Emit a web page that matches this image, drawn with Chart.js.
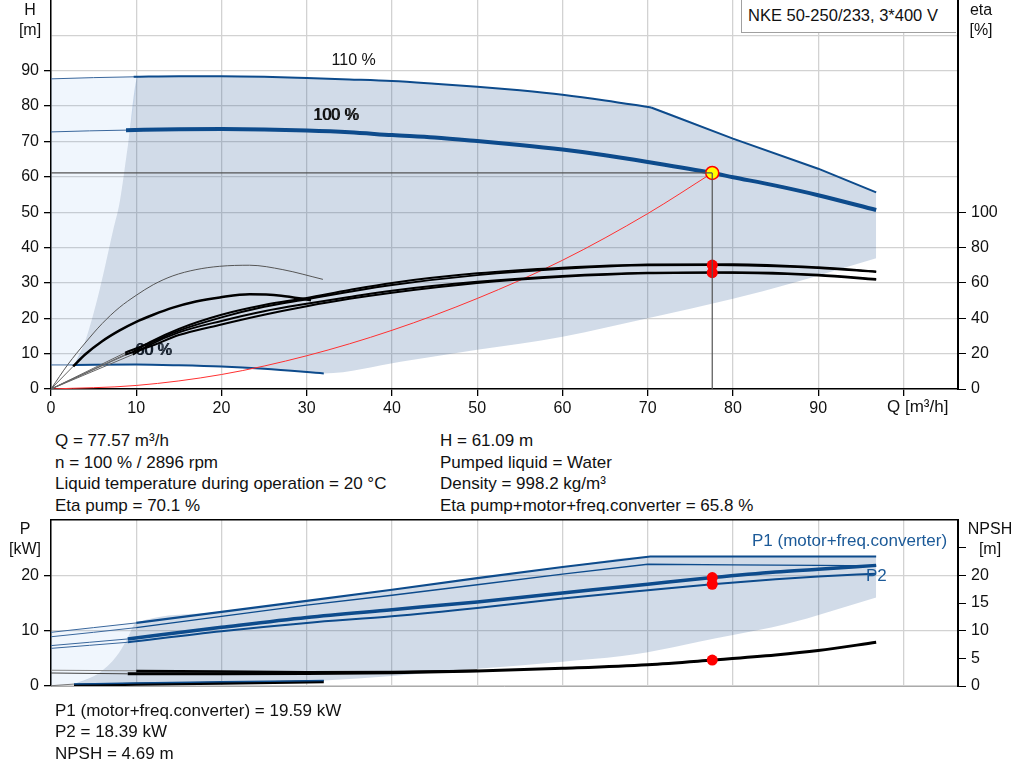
<!DOCTYPE html>
<html>
<head>
<meta charset="utf-8">
<script src="https://cdn.jsdelivr.net/npm/chart.js@4.4.1/dist/chart.umd.min.js"></script>
<style>
  html, body { margin: 0; padding: 0; background: #fff; }
  body { width: 1024px; height: 781px; position: relative; overflow: hidden;
         font-family: 'Liberation Sans', Arial, sans-serif; color: #111; }
  canvas { position: absolute; left: 0; }
  .t { position: absolute; font-size: 17px; line-height: 21.5px; white-space: nowrap; }
  .ax { position: absolute; font-size: 16px; line-height: 20px; text-align: center; width: 60px; }
  #typeBox { position: absolute; left: 741px; top: -1px; width: 215px; height: 34px; box-sizing: border-box;
             border: 1.5px solid #a0a0a0; border-right: none; background: #fff;
             font-size: 16.5px; line-height: 30px; padding-left: 6px; white-space: nowrap; }
  .blue { color: #1c5a98; }
</style>
</head>
<body>
<canvas id="headChart" width="1024" height="420" style="top:0"></canvas>
<canvas id="powerChart" width="1024" height="192" style="top:518px"></canvas>

<div class="ax" style="left:0; top:0">H<br>[m]</div>
<div class="ax" style="left:951px; top:0">eta<br>[%]</div>
<div class="ax" style="left:-5px; top:519px">P<br>[kW]</div>
<div class="ax" style="left:960px; top:519px">NPSH<br>[m]</div>
<div class="t" style="left:887px; top:396px">Q [m³/h]</div>
<div id="typeBox">NKE 50-250/233, 3*400 V</div>
<div class="t blue" style="left:752px; top:530px">P1 (motor+freq.converter)</div>
<div class="t blue" style="left:866px; top:565px">P2</div>
<div class="t" id="infoLeft" style="left:55px; top:430px"></div>
<div class="t" id="infoRight" style="left:440px; top:430px"></div>
<div class="t" id="infoPower" style="left:55px; top:700px; line-height:21.3px"></div>

<script>
// duty point
const dutyQ = 77.57, dutyH = 61.09
const etaPump = 70.1, etaTotal = 65.8
const p1Duty = 19.59, p2Duty = 18.39, npshDuty = 4.69
const speedPct = 100, rpm = 2896, liquidTemp = 20, density = 998.2

// axes
const Q_MAX = 106.4, H_MAX = 110, ETA_MAX = 220, P_MAX = 30
const qMarks = [0, 10, 20, 30, 40, 50, 60, 70, 80, 90, 100]
const qTicks = [0, 10, 20, 30, 40, 50, 60, 70, 80, 90]
const hGrid = [0, 10, 20, 30, 40, 50, 60, 70, 80, 90, 100]
const hTicks = [0, 10, 20, 30, 40, 50, 60, 70, 80, 90]
const etaTicks = [0, 20, 40, 60, 80, 100]
const pTicks = [0, 10, 20]
const npshMarks = [0, 5, 10, 15, 20, 25]
const npshTicks = [0, 5, 10, 15, 20]

// head curves [m]
const h110ThinQ = [0, 5, 10.2], h110ThinH = [87.7, 88.05, 88.3]
const h110Q = [9.7, 15, 20, 25, 30, 35, 40, 45, 50, 55, 60, 65, 70.4]
const h110H = [88.3, 88.45, 88.45, 88.3, 87.95, 87.55, 87.1, 86.35, 85.5, 84.45, 83.2, 81.6, 79.6]
const h110LimQ = [70.4, 80, 90, 96.8], h110LimH = [79.6, 70.8, 62.3, 55.6]
const h100ThinQ = [0, 4.5, 8.8], h100ThinH = [72.7, 73.0, 73.2]
const h100Q = [8.8, 15, 20, 25, 30, 35, 40, 45, 50, 55, 60, 65, 70, 77.57, 80, 85, 90, 96.8]
const h100H = [73.2, 73.45, 73.5, 73.4, 73.1, 72.6, 71.8, 71.1, 70.1, 69.0, 67.7, 66.1, 64.2, 61.09, 59.9, 57.5, 54.8, 50.6]
const h60ThinQ = [0, 2.7], h60ThinH = [6.8, 6.8]
const h60Q = [2.7, 10, 15, 20, 25, 32], h60H = [6.8, 6.9, 6.7, 6.35, 5.7, 4.4]
const minFlowQ = [2.7, 4, 5.7, 7.3, 8.1, 9.0, 10.2], minFlowH = [6.8, 13.5, 28, 45, 53.4, 68.5, 88.3]
const lowQ = [32, 41, 47, 50, 60, 70, 80, 87, 96.8], lowH = [4.4, 7.7, 10, 11.1, 14.8, 20, 25.5, 30, 37]
const sysQ = [0, 10, 20, 30, 40, 50, 60, 70, 77.57], sysH = [0, 1.0, 4.1, 9.4, 16.6, 25.6, 36.4, 49.6, 61.09]

// efficiency curves [%]
const etaAQ = [0, 2, 4, 6, 8, 10, 12, 14.3, 17, 19.8, 23.3, 27.2, 31.9]
const etaA = [0, 14, 26, 37, 46, 53, 59, 64, 67.5, 69.4, 70, 67.5, 62]
const etaBQ = [2.6, 4, 6, 8, 10, 12, 14.3, 17, 19.8, 23.3, 27, 30.5]
const etaB = [12.8, 19.5, 27, 33, 38, 42, 46, 49.5, 51.8, 53.6, 52.8, 50.2]
const etaU1Q = [9.6, 11.6, 15, 20, 25, 30, 35, 40, 50, 60, 70, 80, 90, 96.8]
const etaU1 = [21, 26.5, 34, 42, 47.5, 51.5, 56, 60, 65.4, 68.6, 70.4, 70.6, 68.8, 66.4]
const etaU2Q = [8.7, 11.6, 15, 20, 25, 30, 35, 40, 50, 60, 70, 77.57, 85, 90, 96.8]
const etaU2 = [20.5, 26, 33, 40.5, 46.5, 50.8, 55, 58.8, 64.4, 68, 70, 70.1, 69.4, 68.4, 66.2]
const etaL1Q = [9.6, 11.6, 15, 20, 25, 30, 35, 40, 50, 60, 70, 80, 90, 96.8]
const etaL1 = [19.5, 25, 32, 38.5, 44, 48.2, 52, 55.6, 60.6, 63.9, 65.7, 66, 64.6, 62.2]
const etaL2Q = [8.7, 11.6, 15, 20, 25, 30, 35, 40, 50, 60, 70, 77.57, 85, 90, 96.8]
const etaL2 = [19.5, 24, 30.5, 36.5, 42, 46.8, 51, 54.5, 60, 63.5, 65.5, 65.8, 65.2, 64.2, 61.8]

// power curves [kW]
const p1_110ThinQ = [0, 5, 10], p1_110ThinP = [9.7, 10.55, 11.4]
const p1_110Q = [10, 20, 30, 40, 50, 60, 70.3, 80, 96.8], p1_110P = [11.4, 13.4, 15.4, 17.4, 19.5, 21.5, 23.4, 23.4, 23.4]
const p2_110ThinQ = [0, 5, 10], p2_110ThinP = [8.9, 9.7, 10.55]
const p2_110Q = [10, 20, 30, 40, 50, 60, 70, 80, 90, 96.8], p2_110P = [10.55, 12.6, 14.6, 16.4, 18.3, 20.2, 22.0, 21.9, 21.8, 21.7]
const p1_100ThinQ = [0, 4.5, 9], p1_100ThinP = [7.3, 7.9, 8.5]
const p100Q = [9, 20, 30, 40, 50, 60, 70, 77.57, 85, 90, 96.8]
const p1_100P = [8.5, 10.6, 12.4, 13.8, 15.2, 16.8, 18.4, 19.59, 20.6, 21.1, 21.8]
const p2_100ThinQ = [0, 4.5, 9], p2_100ThinP = [6.8, 7.35, 7.9]
const p2_100P = [7.9, 9.9, 11.4, 12.6, 14.1, 15.8, 17.3, 18.39, 19.3, 19.8, 20.3]
const p60ThinQ = [0, 2.7], p60ThinP = [0.05, 0.35]
const p60Q = [2.7, 10, 20, 32], p60P = [0.35, 0.55, 0.75, 1.0]
const minFlowPQ = [2.7, 5.7, 7.7, 8.9, 9.8, 10], minFlowP = [0.35, 2.4, 5.4, 8.4, 11.2, 11.4]
const lowPQ = [32, 40, 50, 60, 67, 70, 76, 80, 86, 96.8], lowP = [1.0, 1.8, 3.1, 4.4, 5.4, 6.1, 8.0, 9.2, 11.1, 16]

// NPSH curves [m]
const npsh100ThinQ = [0, 9], npsh100Thin = [2.35, 2.2]
const npsh100 = [2.2, 2.2, 2.25, 2.4, 2.7, 3.2, 3.85, 4.69, 5.6, 6.4, 7.9]
const npsh110ThinQ = [0, 10], npsh110Thin = [2.85, 2.75]
const npsh110Q = [10, 20, 30, 40, 50], npsh110 = [2.7, 2.6, 2.5, 2.55, 2.75]
const npsh60Q = [2.7, 10, 20, 32], npsh60 = [0.15, 0.3, 0.5, 0.75]

const BLUE = '#0d4b8c', BLUE_THIN = '#3a679c', GREY_FILL = 'rgba(24,76,140,0.2)', LIGHT_FILL = 'rgba(60,140,230,0.08)'
const GRID = '#d2d2d2'

Chart.defaults.font.family = "'Liberation Sans', Arial, sans-serif"
Chart.defaults.font.size = 16
Chart.defaults.color = '#111'

function pts(qs, vs) { return qs.map((q, i) => ({x: q, y: vs[i]})) }

function curve(data, color, width, extra) {
    return Object.assign({
        data: data, showLine: true, borderColor: color, borderWidth: width,
        pointRadius: 0, pointHoverRadius: 0, fill: false,
        cubicInterpolationMode: 'monotone', order: 10
    }, extra || {})
}

function dot(data, radius, bg, border, extra) {
    return Object.assign({
        data: data, showLine: false, pointRadius: radius, pointHoverRadius: radius,
        backgroundColor: bg, borderColor: border || bg, borderWidth: border ? 1.5 : 0, order: 2
    }, extra || {})
}

// fill between two invisible outlines
function area(list, low, high, color) {
    list.push(curve(low, 'rgba(0,0,0,0)', 1, {order: 20}))
    let idx = list.length - 1
    list.push(curve(high, 'rgba(0,0,0,0)', 1, {order: 20, fill: {target: idx}, backgroundColor: color}))
}

const curveLabels = {
    id: 'curveLabels',
    beforeDatasetsDraw(chart, args, opts) { drawLabels(chart, opts.items.filter(i => i.under)) },
    afterDatasetsDraw(chart, args, opts) { drawLabels(chart, opts.items.filter(i => !i.under)) }
}

function drawLabels(chart, items) {
    let ctx = chart.ctx
    ctx.save()
    ctx.font = "16px 'Liberation Sans', Arial, sans-serif"
    ctx.fillStyle = '#111'
    ctx.textAlign = 'center'
    ctx.textBaseline = 'middle'
    items.forEach(it => {
        let px = chart.scales.x.getPixelForValue(it.q)
        let py = chart.scales.y.getPixelForValue(it.v)
        ctx.fillText(it.text, px, py)
        if (it.twice) ctx.fillText(it.text, px + 1, py)
    })
    ctx.restore()
}

function tickMarks(list) {
    return c => (c.tick && list.includes(c.tick.value)) ? '#000' : 'rgba(0,0,0,0)'
}

// fixed axis sizes, no extra label padding around the plot
function fitY(w) { return s => { s.width = w; s.paddingTop = 0; s.paddingBottom = 0 } }
function fitX(h) { return s => { s.height = h; s.paddingLeft = 0; s.paddingRight = 0 } }

// ---------- head / efficiency chart ----------
let headSets = []
area(headSets, pts(h60ThinQ, h60ThinH).concat(pts(minFlowQ, minFlowH).slice(1)), pts(h110ThinQ, h110ThinH), LIGHT_FILL)
area(headSets,
    pts(h60Q, h60H).concat(pts(lowQ, lowH).slice(1)),
    pts(minFlowQ, minFlowH).concat(pts(h110Q, h110H).filter(p => p.x > 10.2), pts(h110LimQ, h110LimH).slice(1)),
    GREY_FILL)

headSets.push(
    curve(pts(h110ThinQ, h110ThinH), BLUE_THIN, 1, {order: 12}),
    curve(pts(h110Q, h110H), BLUE, 2),
    curve(pts(h110LimQ, h110LimH), BLUE, 2, {cubicInterpolationMode: 'default', tension: 0}),
    curve(pts(h100ThinQ, h100ThinH), BLUE_THIN, 1, {order: 12}),
    curve(pts(h100Q, h100H), BLUE, 4),
    curve(pts(h60ThinQ, h60ThinH), BLUE_THIN, 1, {order: 12}),
    curve(pts(h60Q, h60H), BLUE, 2),
    curve(pts(sysQ, sysH), '#ff3030', 1, {order: 9}),

    curve(pts(etaAQ, etaA), '#555', 1, {yAxisID: 'y2', order: 8}),
    curve(pts([0, etaBQ[0]], [0, etaB[0]]), '#666', 1, {yAxisID: 'y2', order: 8}),
    curve(pts([0, etaU1Q[0]], [0, etaU1[0]]), '#666', 1, {yAxisID: 'y2', order: 8}),
    curve(pts([0, etaU2Q[0]], [0, etaU2[0]]), '#666', 1, {yAxisID: 'y2', order: 8}),
    curve(pts([0, etaL1Q[0]], [0, etaL1[0]]), '#666', 1, {yAxisID: 'y2', order: 8}),
    curve(pts([0, etaL2Q[0]], [0, etaL2[0]]), '#666', 1, {yAxisID: 'y2', order: 8}),
    curve(pts(etaBQ, etaB), '#000', 2.5, {yAxisID: 'y2', order: 7}),
    curve(pts(etaU1Q, etaU1), '#000', 2, {yAxisID: 'y2', order: 7}),
    curve(pts(etaU2Q, etaU2), '#000', 2, {yAxisID: 'y2', order: 7}),
    curve(pts(etaL1Q, etaL1), '#000', 2, {yAxisID: 'y2', order: 7}),
    curve(pts(etaL2Q, etaL2), '#000', 2, {yAxisID: 'y2', order: 7}),

    dot([{x: dutyQ, y: etaPump}, {x: dutyQ, y: etaTotal}], 5.5, '#ff0000', null, {yAxisID: 'y2'}),
    dot([{x: dutyQ, y: dutyH}], 6.5, '#ffff00', '#ff0000'),
    curve([{x: 0, y: dutyH}, {x: dutyQ, y: dutyH}], '#555', 1.2, {order: 1, cubicInterpolationMode: 'default', tension: 0}),
    curve([{x: dutyQ, y: dutyH}, {x: dutyQ, y: 0}], '#555', 1.2, {order: 1, cubicInterpolationMode: 'default', tension: 0})
)

const headChart = new Chart(document.getElementById('headChart'), {
    type: 'scatter',
    data: {datasets: headSets},
    plugins: [curveLabels],
    options: {
        responsive: false, animation: false, events: [],
        layout: {autoPadding: false, padding: 0},
        plugins: {
            legend: {display: false}, tooltip: {enabled: false},
            curveLabels: {items: [
                {text: '110 %', q: 35.5, v: 92.8},
                {text: '100 %', q: 33.4, v: 77.4, twice: true},
                {text: '60 %', q: 12.0, v: 11.0, twice: true, under: true}
            ]}
        },
        scales: {
            x: {
                type: 'linear', min: 0, max: Q_MAX,
                afterBuildTicks: s => { s.ticks = qMarks.map(v => ({value: v})) },
                afterFit: fitX(31),
                ticks: {autoSkip: false, maxRotation: 0, padding: 3, callback: v => qTicks.includes(v) ? String(v) : ''},
                grid: {color: GRID, lineWidth: 1.3, tickLength: 7, tickColor: tickMarks(qMarks)},
                border: {color: '#000', width: 1.5}
            },
            y: {
                type: 'linear', min: 0, max: H_MAX,
                afterBuildTicks: s => { s.ticks = hGrid.map(v => ({value: v})) },
                afterFit: fitY(51),
                ticks: {padding: 5, callback: v => hTicks.includes(v) ? String(v) : ''},
                grid: {color: GRID, lineWidth: 1.3, tickLength: 7, tickColor: tickMarks(hTicks)},
                border: {color: '#000', width: 1.5}
            },
            y2: {
                type: 'linear', position: 'right', min: 0, max: ETA_MAX,
                afterBuildTicks: s => { s.ticks = etaTicks.map(v => ({value: v})) },
                afterFit: fitY(66),
                ticks: {padding: 5},
                grid: {drawOnChartArea: false, tickLength: 8, tickColor: '#000'},
                border: {color: '#000', width: 2}
            }
        }
    }
})

// ---------- power / NPSH chart ----------
let powerSets = []
area(powerSets, pts(p60ThinQ, p60ThinP).concat(pts(minFlowPQ, minFlowP).slice(1)), pts(p1_110ThinQ, p1_110ThinP), LIGHT_FILL)
area(powerSets,
    pts(p60Q, p60P).concat(pts(lowPQ, lowP).slice(1)),
    pts(minFlowPQ, minFlowP).concat(pts(p1_110Q, p1_110P).slice(1)),
    GREY_FILL)

powerSets.push(
    curve(pts(p1_110ThinQ, p1_110ThinP), BLUE_THIN, 1, {order: 12}),
    curve(pts(p1_110Q, p1_110P), BLUE, 2.2, {cubicInterpolationMode: 'default', tension: 0}),
    curve(pts(p2_110ThinQ, p2_110ThinP), BLUE_THIN, 1, {order: 12}),
    curve(pts(p2_110Q, p2_110P), BLUE, 1.3, {cubicInterpolationMode: 'default', tension: 0}),
    curve(pts(p1_100ThinQ, p1_100ThinP), BLUE_THIN, 1, {order: 12}),
    curve(pts(p100Q, p1_100P), BLUE, 3.5),
    curve(pts(p2_100ThinQ, p2_100ThinP), BLUE_THIN, 1, {order: 12}),
    curve(pts(p100Q, p2_100P), BLUE, 2),

    curve(pts(npsh110ThinQ, npsh110Thin), '#888', 1, {yAxisID: 'y2', order: 12}),
    curve(pts(npsh100ThinQ, npsh100Thin), '#444', 1, {yAxisID: 'y2', order: 12}),
    curve(pts(npsh110Q, npsh110), '#000', 2.5, {yAxisID: 'y2', order: 7}),
    curve(pts(p100Q, npsh100), '#000', 3, {yAxisID: 'y2', order: 7}),
    curve(pts(npsh60Q, npsh60), '#000', 3, {yAxisID: 'y2', order: 7}),
    curve(pts(p60ThinQ, p60ThinP), '#777', 1, {order: 12}),
    curve(pts(p60Q, p60P), BLUE, 1.5, {order: 6}),

    dot([{x: dutyQ, y: p1Duty}, {x: dutyQ, y: p2Duty}], 5.5, '#ff0000'),
    dot([{x: dutyQ, y: npshDuty}], 5.5, '#ff0000', null, {yAxisID: 'y2'})
)

const powerChart = new Chart(document.getElementById('powerChart'), {
    type: 'scatter',
    data: {datasets: powerSets},
    options: {
        responsive: false, animation: false, events: [],
        layout: {autoPadding: false, padding: {top: 2, left: 0, right: 0, bottom: 0}},
        plugins: {legend: {display: false}, tooltip: {enabled: false}},
        scales: {
            x: {
                type: 'linear', min: 0, max: Q_MAX,
                afterBuildTicks: s => { s.ticks = qMarks.map(v => ({value: v})) },
                afterFit: fitX(24),
                ticks: {display: false},
                grid: {color: GRID, lineWidth: 1.3, drawTicks: false},
                border: {color: '#aaa', width: 1}
            },
            x2: {
                type: 'linear', position: 'top', min: 0, max: Q_MAX,
                afterFit: fitX(0),
                ticks: {display: false},
                grid: {display: false, drawTicks: false},
                border: {color: '#000', width: 1.5}
            },
            y: {
                type: 'linear', min: 0, max: P_MAX,
                afterBuildTicks: s => { s.ticks = pTicks.map(v => ({value: v})) },
                afterFit: fitY(51),
                ticks: {padding: 5},
                grid: {color: GRID, lineWidth: 1.3, tickLength: 7, tickColor: '#000'},
                border: {color: '#000', width: 1.5}
            },
            y2: {
                type: 'linear', position: 'right', min: 0, max: P_MAX,
                afterBuildTicks: s => { s.ticks = npshMarks.map(v => ({value: v})) },
                afterFit: fitY(66),
                ticks: {padding: 5, callback: v => npshTicks.includes(v) ? String(v) : ''},
                grid: {drawOnChartArea: false, tickLength: 8, tickColor: '#000'},
                border: {color: '#000', width: 2}
            }
        }
    }
})

// ---------- text blocks ----------
document.getElementById('infoLeft').innerHTML = [
    'Q = ' + dutyQ + ' m³/h',
    'n = ' + speedPct + ' % / ' + rpm + ' rpm',
    'Liquid temperature during operation = ' + liquidTemp + ' °C',
    'Eta pump = ' + etaPump + ' %'
].join('<br>')

document.getElementById('infoRight').innerHTML = [
    'H = ' + dutyH + ' m',
    'Pumped liquid = Water',
    'Density = ' + density + ' kg/m³',
    'Eta pump+motor+freq.converter = ' + etaTotal + ' %'
].join('<br>')

document.getElementById('infoPower').innerHTML = [
    'P1 (motor+freq.converter) = ' + p1Duty + ' kW',
    'P2 = ' + p2Duty + ' kW',
    'NPSH = ' + npshDuty + ' m'
].join('<br>')
</script>
</body>
</html>
